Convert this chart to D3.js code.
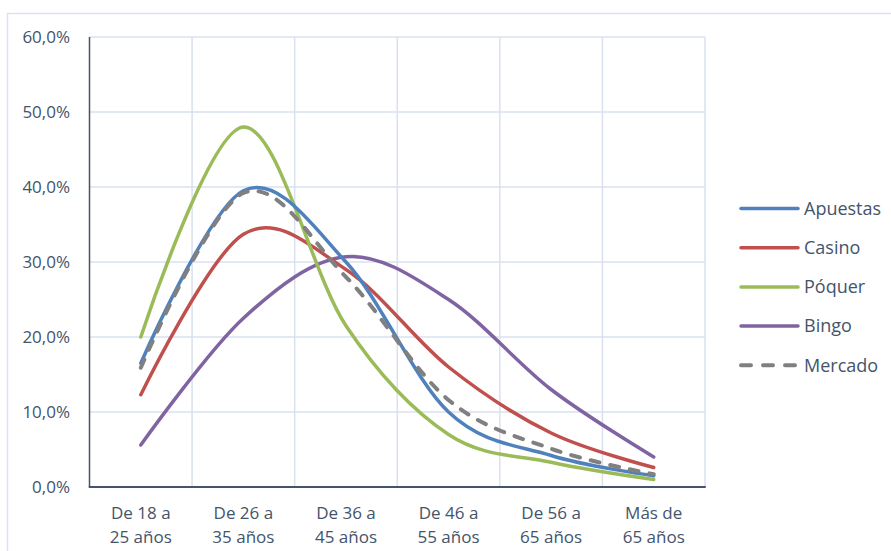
<!DOCTYPE html>
<html>
<head>
<meta charset="utf-8">
<script src="https://cdn.jsdelivr.net/npm/d3@7"></script>
<style>
  html, body { margin: 0; padding: 0; background: #fff; }
  svg { display: block; font-family: "Open Sans", "Noto Sans", sans-serif; }
</style>
</head>
<body>
<svg id="chart" width="891" height="551"></svg>
<script>
const categories = [
  ["De 18 a", "25 años"],
  ["De 26 a", "35 años"],
  ["De 36 a", "45 años"],
  ["De 46 a", "55 años"],
  ["De 56 a", "65 años"],
  ["Más de", "65 años"]
];
const seriesNames = ["Apuestas", "Casino", "Póquer", "Bingo", "Mercado"];
const apuestas = [16.5, 39.5, 30.0, 10.0, 4.2, 1.5];
const casino   = [12.3, 33.7, 29.0, 16.0, 7.2, 2.6];
const poquer   = [20.0, 48.0, 21.5, 7.0, 3.3, 1.0];
const bingo    = [5.6, 22.5, 30.7, 25.0, 13.0, 4.0];
const mercado  = [15.9, 39.2, 28.0, 11.6, 5.1, 1.7];
const yTicks = [0, 10, 20, 30, 40, 50, 60];

const seriesValues = [apuestas, casino, poquer, bingo, mercado];
const colors = ["#4F81BD", "#C0504D", "#9BBB59", "#8064A2", "#808080"];
const dashed = [false, false, false, false, true];

const svg = d3.select("#chart");
const textColor = "#44546A";
const gridColor = "#D9E1F0";

// outer frame
svg.append("rect")
  .attr("x", 7.5).attr("y", 13.5)
  .attr("width", 900).attr("height", 600)
  .attr("fill", "none").attr("stroke", "#DCE3EE").attr("stroke-width", 1.5);

const pLeft = 89.5, pRight = 705, pTop = 37, pBottom = 487;
const x = d3.scaleBand().domain(d3.range(categories.length)).range([pLeft, pRight]).padding(0);
const y = d3.scaleLinear().domain([0, 60]).range([pBottom, pTop]);
const cx = i => x(i) + x.bandwidth() / 2;

// horizontal gridlines
svg.append("g").selectAll("line").data(yTicks.filter(t => t > 0)).join("line")
  .attr("x1", pLeft).attr("x2", pRight)
  .attr("y1", d => y(d)).attr("y2", d => y(d))
  .attr("stroke", gridColor).attr("stroke-width", 1.5);

// vertical gridlines at band boundaries
svg.append("g").selectAll("line").data(d3.range(1, categories.length + 1)).join("line")
  .attr("x1", i => i < categories.length ? x(i) : pRight)
  .attr("x2", i => i < categories.length ? x(i) : pRight)
  .attr("y1", pTop).attr("y2", pBottom)
  .attr("stroke", gridColor).attr("stroke-width", 1.5);

// y axis labels
svg.append("g").selectAll("text").data(yTicks).join("text")
  .attr("x", 70).attr("y", d => y(d)).attr("dy", "0.35em")
  .attr("text-anchor", "end")
  .attr("font-size", 17).attr("fill", textColor)
  .text(d => d3.format(".1f")(d).replace(".", ",") + "%");

// axis lines
svg.append("line").attr("x1", pLeft).attr("x2", pLeft).attr("y1", pTop).attr("y2", pBottom)
  .attr("stroke", "#44546A").attr("stroke-width", 1.5);
svg.append("line").attr("x1", pLeft - 0.75).attr("x2", pRight + 0.75).attr("y1", pBottom).attr("y2", pBottom)
  .attr("stroke", "#44546A").attr("stroke-width", 2);

// x labels
const xl = svg.append("g").selectAll("text").data(categories).join("text")
  .attr("text-anchor", "middle").attr("font-size", 17).attr("fill", textColor);
xl.append("tspan").attr("x", (d, i) => cx(i)).attr("y", 519).text(d => d[0]);
xl.append("tspan").attr("x", (d, i) => cx(i)).attr("y", 543).text(d => d[1]);

// lines
const line = d3.line().x((d, i) => cx(i)).y(d => y(d)).curve(d3.curveCardinal.tension(0));
const order = [3, 1, 2, 0, 4];
order.forEach(k => {
  svg.append("path")
    .attr("d", line(seriesValues[k]))
    .attr("fill", "none")
    .attr("stroke", colors[k])
    .attr("stroke-width", dashed[k] ? 4 : 3.5)
    .attr("stroke-linecap", "round")
    .attr("stroke-linejoin", "round")
    .attr("stroke-dasharray", dashed[k] ? "9,11" : null);
});

// legend
const lg = svg.append("g");
seriesNames.forEach((name, k) => {
  const yy = 208.5 + k * 39.2;
  lg.append("line").attr("x1", 741).attr("x2", 798).attr("y1", yy).attr("y2", yy)
    .attr("stroke", colors[k]).attr("stroke-width", dashed[k] ? 4 : 3.5)
    .attr("stroke-linecap", "round")
    .attr("stroke-dasharray", dashed[k] ? "10,12" : null);
  lg.append("text").attr("x", 804).attr("y", yy).attr("dy", "0.35em")
    .attr("font-size", 18).attr("fill", textColor).text(name);
});
</script>
</body>
</html>
